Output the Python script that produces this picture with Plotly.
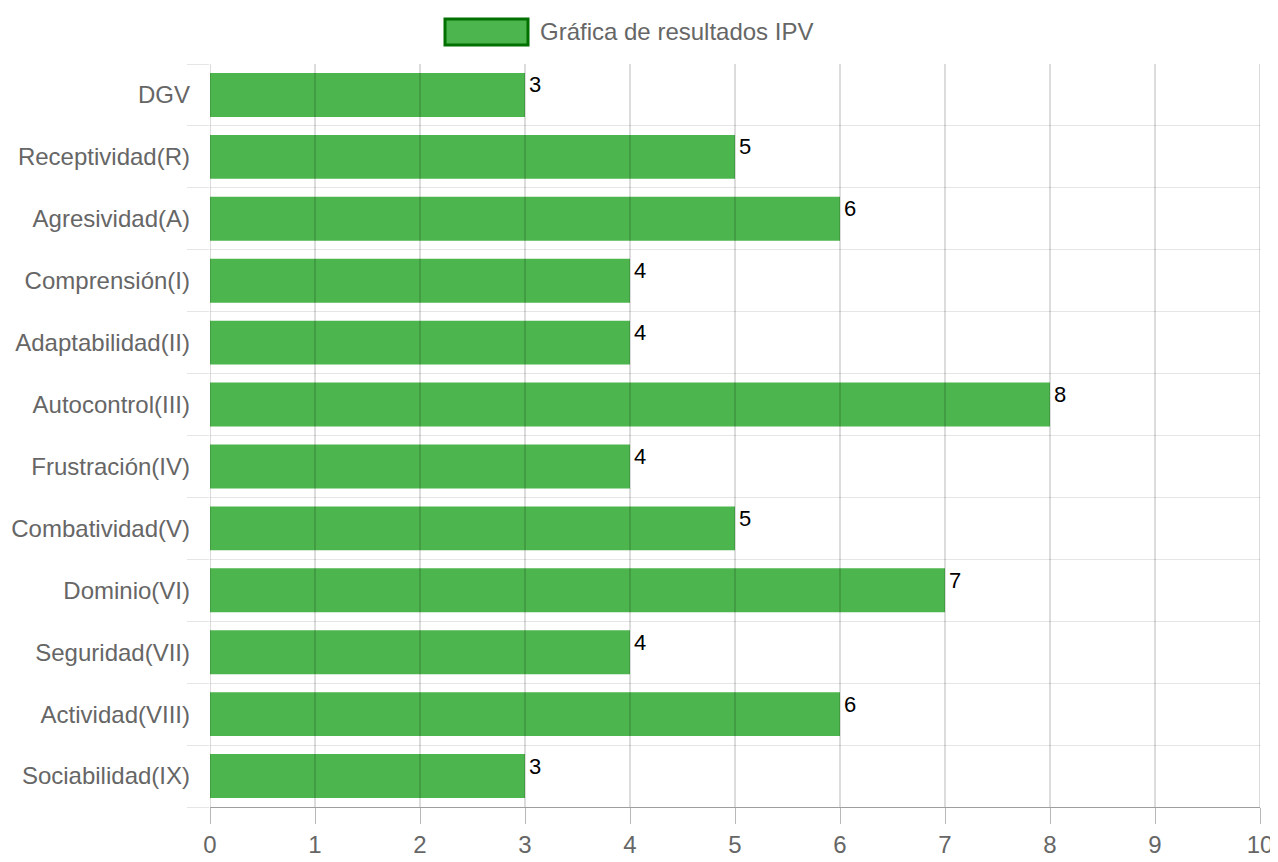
import plotly.graph_objects as go

categories = ["DGV", "Receptividad(R)", "Agresividad(A)", "Comprensión(I)", "Adaptabilidad(II)",
              "Autocontrol(III)", "Frustración(IV)", "Combatividad(V)", "Dominio(VI)",
              "Seguridad(VII)", "Actividad(VIII)", "Sociabilidad(IX)"]
values = [3, 5, 6, 4, 4, 8, 4, 5, 7, 4, 6, 3]
series_name = "Gráfica de resultados IPV"
x_ticks = list(range(0, 11))

BAR = "rgb(77,181,77)"
FONT = "Liberation Sans, Arial, Helvetica, sans-serif"
OFF = 8  # page body margin
W, H = 1278 - OFF, 862 - OFF
L, T = 210 - OFF, 64 - OFF
R = W - (1260 - OFF)
B = H - (807 - OFF)
pw, ph = W - L - R, H - T - B

positions = list(range(len(categories)))

fig = go.Figure()
fig.add_trace(go.Bar(
    y=positions, x=values, orientation="h", name=series_name,
    marker=dict(color=BAR, line=dict(width=0)), showlegend=False,
    hovertext=categories,
))

for p, v in zip(positions, values):
    fig.add_annotation(x=v, y=p, text=str(v), showarrow=False, xanchor="left",
                       yanchor="middle", xshift=2, yshift=10,
                       font=dict(family=FONT, size=22, color="black"))

# vertical grid lines drawn above the bars (as in the reference)
for t in x_ticks:
    fig.add_shape(type="line", xref="x", yref="paper", x0=t, x1=t, y0=0, y1=1,
                  line=dict(color="rgba(0,0,0,0.28)", width=1), layer="above")

# legend (page pixel coords converted to paper coords)
def px_x(px):
    return (px - OFF - L) / pw

def px_y(py):
    return 1 + (T - (py - OFF)) / ph

fig.add_shape(type="rect", xref="paper", yref="paper",
              x0=px_x(445), x1=px_x(528), y0=px_y(45), y1=px_y(19),
              fillcolor=BAR, line=dict(color="rgb(0,112,0)", width=3))
fig.add_annotation(xref="paper", yref="paper", x=px_x(538), y=px_y(32), text=series_name,
                   showarrow=False, xanchor="left", yanchor="middle",
                   font=dict(family=FONT, size=24, color="#666"))

fig.update_layout(
    width=W, height=H,
    margin=dict(l=L, r=R, t=T, b=B, pad=0, autoexpand=False),
    plot_bgcolor="white", paper_bgcolor="white",
    bargap=0.29,
    showlegend=False,
    font=dict(family=FONT, size=24, color="#666"),
)
fig.update_xaxes(
    range=[0, 10], tickvals=x_ticks, ticktext=[str(t) for t in x_ticks],
    showgrid=False, automargin=False,
    ticks="outside", ticklen=16, tickcolor="rgba(0,0,0,0.28)",
    showline=True, linecolor="rgba(0,0,0,0.38)", linewidth=1,
    zeroline=False,
    tickfont=dict(family=FONT, size=24, color="#666"),
)
fig.update_yaxes(
    range=[len(categories) - 0.5, -0.5], tickvals=positions, ticktext=categories,
    showgrid=False, ticks="", ticklabelstandoff=19, automargin=False,
    minor=dict(tick0=0.5, dtick=1, showgrid=True, gridcolor="rgba(0,0,0,0.1)",
               gridwidth=1, ticks="outside", ticklen=22, tickcolor="rgba(0,0,0,0.1)"),
    showline=False, zeroline=False,
    tickfont=dict(family=FONT, size=24, color="#666"),
)

fig.write_html("out.html")
